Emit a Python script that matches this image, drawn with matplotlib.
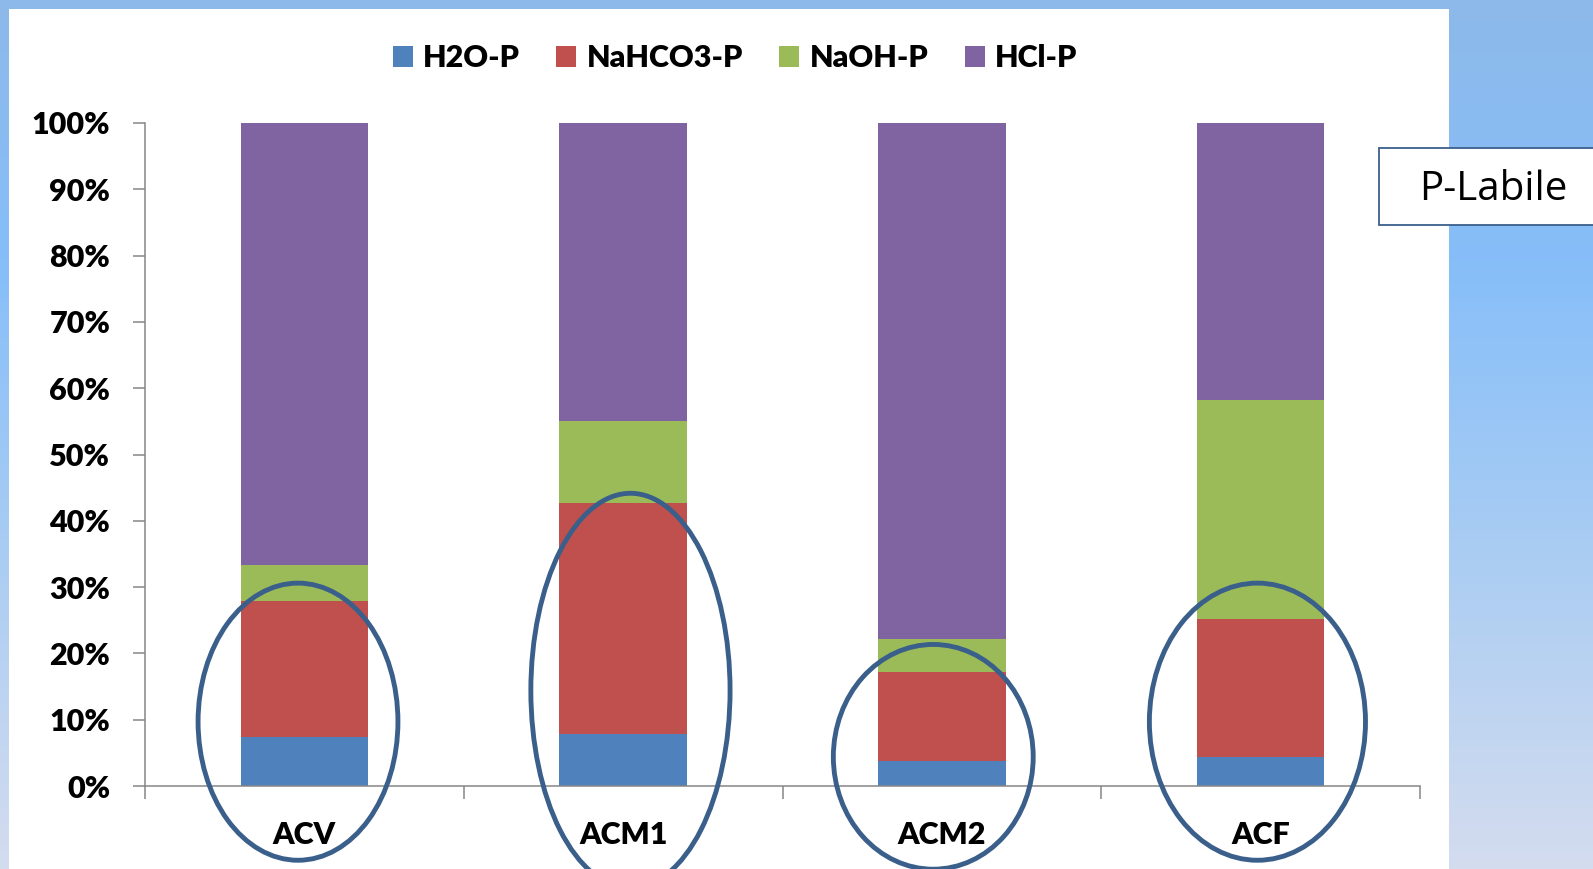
import matplotlib
matplotlib.use("Agg")
import matplotlib.pyplot as plt
import numpy as np
from matplotlib.patches import Rectangle, Ellipse, Patch
from matplotlib.colors import LinearSegmentedColormap

# ---- data (percent of total P per fraction) ----
samples = ["ACV", "ACM1", "ACM2", "ACF"]
h2o_p = [7.4, 7.8, 3.7, 4.3]
nahco3_p = [20.5, 34.9, 13.5, 20.9]
naoh_p = [5.4, 12.3, 4.9, 33.0]
hcl_p = [66.7, 45.0, 77.9, 41.8]
series_names = ["H2O-P", "NaHCO3-P", "NaOH-P", "HCl-P"]
series_colors = ["#4F81BD", "#C0504D", "#9BBB59", "#8064A2"]
y_ticks = [0, 10, 20, 30, 40, 50, 60, 70, 80, 90, 100]
box_label = "P-Labile"

# highlight ellipses around the labile part: (x centre, y centre, width, height)
highlights = [(-0.02, 9.7, 0.627, 41.8),
              (1.023, 14.4, 0.625, 59.5),
              (1.973, 4.4, 0.627, 33.9),
              (2.99, 9.7, 0.678, 41.8)]

W, H = 1593, 869
fig = plt.figure(figsize=(W / 100, H / 100), dpi=100)

# ---- slide-like background ----
bg = fig.add_axes([0, 0, 1, 1], zorder=0)
bg.set_xlim(0, W)
bg.set_ylim(H, 0)
bg.axis("off")
grad = LinearSegmentedColormap.from_list(
    "slide", [(0.0, "#8DB9EA"), (0.3, "#86BEF9"), (0.62, "#A8CCF3"), (1.0, "#D4DCEF")])
g = grad(np.linspace(0, 1, 256))[:, None, :3]
bg.imshow(g, extent=(0, W, H, 0), aspect="auto", zorder=0)
bg.add_patch(Rectangle((9, 9), 1449 - 9, H, facecolor="white", edgecolor="none", zorder=1))

# ---- chart ----
font = "Lato"
weight = "heavy"
ax = fig.add_axes([145 / W, (H - 786) / H, (1420 - 145) / W, (786 - 123) / H], zorder=2)
ax.set_facecolor("none")
x = np.arange(len(samples))
bottom = np.zeros(len(samples))
for vals, name, col in zip([h2o_p, nahco3_p, naoh_p, hcl_p], series_names, series_colors):
    ax.bar(x, vals, width=0.40, bottom=bottom, color=col, edgecolor="none", label=name, zorder=2)
    bottom += np.array(vals)

ax.set_xlim(-0.5, len(samples) - 0.5)
ax.set_ylim(0, 100)
ax.set_yticks(y_ticks)
ax.set_yticklabels([f"{v}%" for v in y_ticks], fontfamily=font, fontweight=weight, fontsize=22)
ax.set_xticks(x)
ax.set_xticklabels(samples, fontfamily=font, fontweight=weight, fontsize=22)
ax.set_xticks(np.arange(-0.5, len(samples)), minor=True)
ax.tick_params(axis="x", which="major", length=0, pad=25)
ax.tick_params(axis="x", which="minor", length=9, width=1.1, color="#868686", direction="out")
ax.tick_params(axis="y", length=9, width=1.1, color="#868686", direction="out", pad=16)
for s in ["top", "right"]:
    ax.spines[s].set_visible(False)
for s in ["left", "bottom"]:
    ax.spines[s].set_color("#868686")
    ax.spines[s].set_linewidth(1.1)

for cx, cy, w, h in highlights:
    ax.add_patch(Ellipse((cx, cy), w, h, fill=False, edgecolor="#3A5F8B",
                         linewidth=3.5, clip_on=False, zorder=5))

handles = [Patch(facecolor=c, edgecolor="none") for c in series_colors]
fig.legend(handles, series_names, loc="center", bbox_to_anchor=(0.4614, 0.933),
           ncol=4, frameon=False, handlelength=0.65, handleheight=0.65,
           handletextpad=0.33, columnspacing=1.2, borderpad=0,
           prop={"family": font, "weight": weight, "size": 22})

# ---- labelled box on the right ----
ov = fig.add_axes([0, 0, 1, 1], zorder=10)
ov.set_xlim(0, W)
ov.set_ylim(H, 0)
ov.axis("off")
ov.set_facecolor("none")
ov.add_patch(Rectangle((1379, 148), 260, 77, facecolor="white", edgecolor="#3A5F8B",
                       linewidth=1.3, clip_on=False))
ov.text(1493, 190, box_label, ha="center", va="center", fontsize=29, fontfamily="Open Sans",
        color="black")

fig.savefig("out.png", dpi=100)
